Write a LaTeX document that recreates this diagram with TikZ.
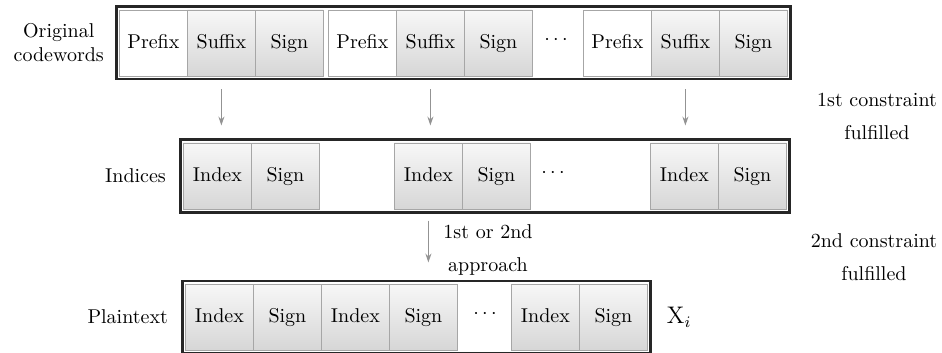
\documentclass[tikz,border=0pt]{standalone}
\usetikzlibrary{positioning,fit,arrows.meta}
\tikzset{
  cell/.style={
    draw=gray!70,
    minimum width={34pt},
    minimum height={33pt},
    text height=1.6ex,
    text depth=.3ex,
    inner sep=0pt,
  },
  gray cell/.style={
    cell,
    top color=gray!6,
    bottom color=gray!32,
  },
  white cell/.style={
    cell,
    fill=white,
  },
  frame/.style={
    draw=black!85,
    line width=1.3pt,
    inner sep=1.4pt,
  },
  flow/.style={
    draw=gray!85,
    line width=0.6pt,
    -{Stealth[length=4.5pt,width=3pt]},
  },
}

\begin{document}
\begin{tikzpicture}[x=0.5pt, y=-0.5pt, node distance=-0.4pt]
        \useasboundingbox (0,0) rectangle (942,353);

        % original codewords
        \node [white cell, anchor=west] (pre1) at (119,43) {Prefix};
        \node [gray cell, right=of pre1] (suf1) {Suffix};
        \node [gray cell, right=of suf1] (sig1) {Sign};
        \node [white cell, anchor=west] (pre2) at (328,43) {Prefix};
        \node [gray cell, right=of pre2] (suf2) {Suffix};
        \node [gray cell, right=of suf2] (sig2) {Sign};
        \node (dots1) at (556,40) {$\cdots$};
        \node [white cell, anchor=west] (pre3) at (583,43) {Prefix};
        \node [gray cell, right=of pre3] (suf3) {Suffix};
        \node [gray cell, right=of suf3] (sig3) {Sign};
        \node [frame, fit=(pre1)(sig3)] (orig) {};

        % indices
        \node [gray cell, anchor=west] (idx1) at (183,176) {Index};
        \node [gray cell, right=of idx1] (sgn1) {Sign};
        \node [gray cell, anchor=west] (idx2) at (394,176) {Index};
        \node [gray cell, right=of idx2] (sgn2) {Sign};
        \node (dots2) at (553,173) {$\cdots$};
        \node [gray cell, anchor=west] (idx3) at (650,176) {Index};
        \node [gray cell, right=of idx3] (sgn3) {Sign};
        \node [frame, fit=(idx1)(sgn3)] (ind) {};

        % plaintext
        \node [gray cell, anchor=west] (pa1) at (185,317) {Index};
        \node [gray cell, right=of pa1] (pb1) {Sign};
        \node [gray cell, right=of pb1] (pa2) {Index};
        \node [gray cell, right=of pa2] (pb2) {Sign};
        \node (dots3) at (485,314) {$\cdots$};
        \node [gray cell, anchor=west] (pa3) at (511,317) {Index};
        \node [gray cell, right=of pa3] (pb3) {Sign};
        \node [frame, fit=(pa1)(pb3)] (plain) {};

        \node [align=center, left=2pt of orig] (lorig) {Original\\codewords};
        \node [left=3pt of ind] (lind) {Indices};
        \node [left=3pt of plain] (lplain) {Plaintext};
        \node [right=4pt of plain, font=\large] (xi) {$\mathrm{X}_i$};

        \node [align=center] (c1) at (877,116) {1st constraint\\[4.5pt]fulfilled};
        \node [align=center] (c2) at (874,257) {2nd constraint\\[4.5pt]fulfilled};
        \node [align=center] (appr) at (488,250) {1st or 2nd\\[4.5pt]approach};

        \foreach \s in {suf1,suf2,suf3}
          \draw [flow, shorten <=4.5pt, shorten >=6.5pt] (\s |- orig.south) -- (\s |- ind.north);
        \draw [flow, shorten <=3.5pt, shorten >=8.5pt] (idx2 |- ind.south) -- (idx2 |- plain.north);
      \end{tikzpicture}
\end{document}
